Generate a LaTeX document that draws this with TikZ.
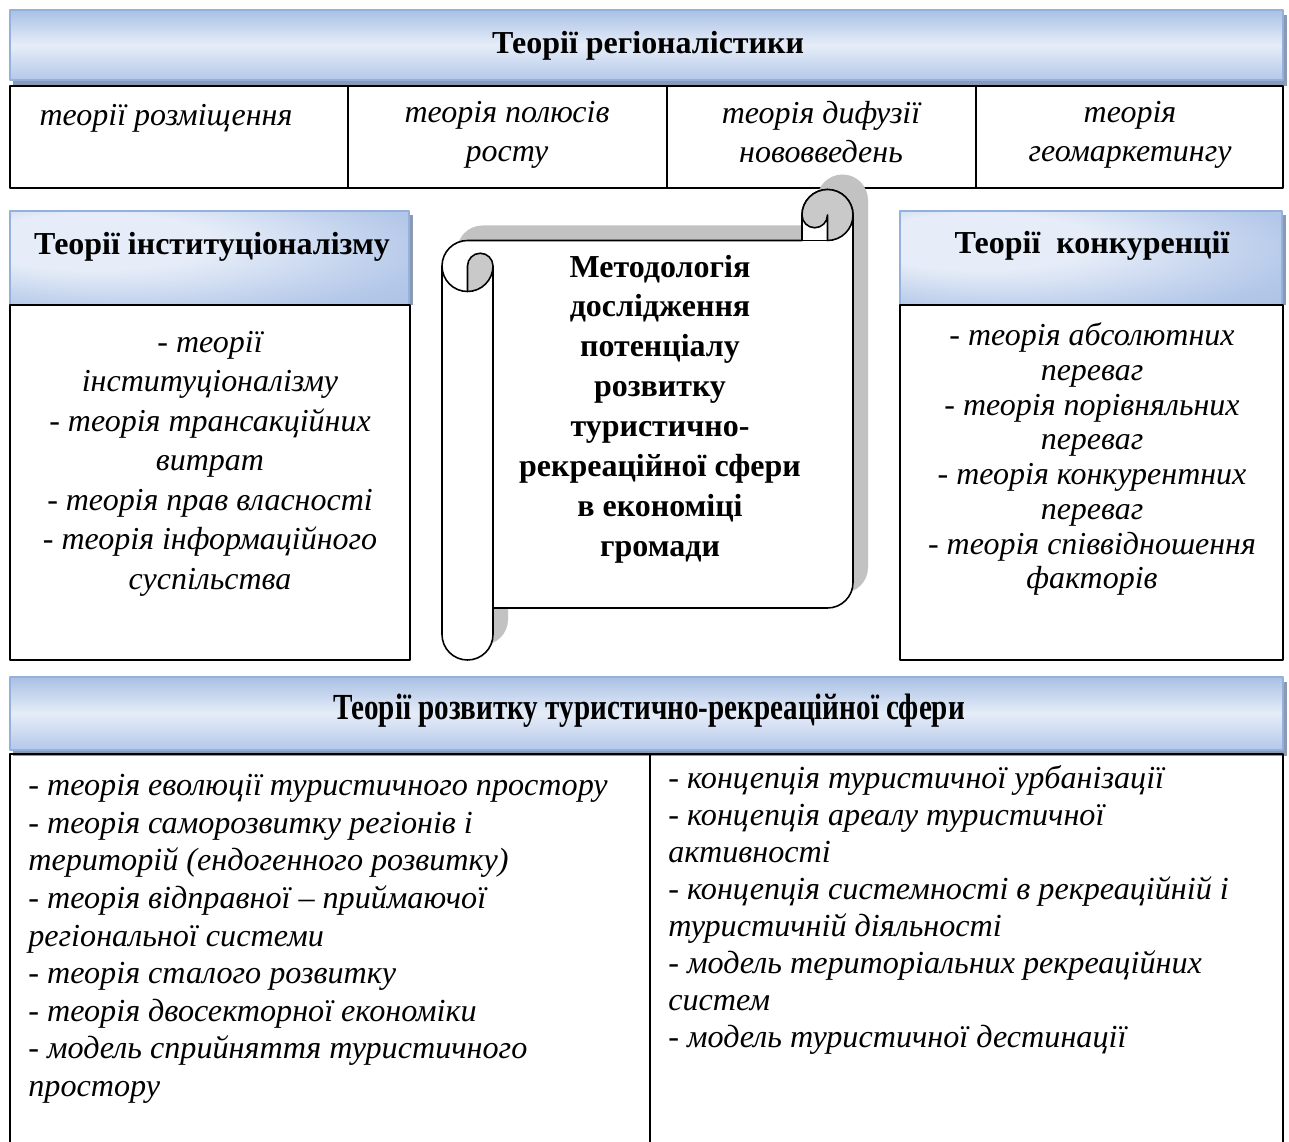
\documentclass[tikz,border=0pt]{standalone}
\usepackage{fontspec}
\usepackage{graphicx}
\setmainfont{Liberation Serif}
\usetikzlibrary{positioning}

\definecolor{hdrtop}{HTML}{A9C0E4}
\definecolor{hdrmid}{HTML}{E6EDF8}
\definecolor{hdrbot}{HTML}{B4C8E9}
\definecolor{hdrdeep}{HTML}{9CB5DD}
\definecolor{hdrline}{HTML}{93B1DC}
\definecolor{hdrshade}{HTML}{8A99B4}
\definecolor{rollgray}{HTML}{C9C9C9}
\definecolor{scrollshade}{HTML}{C2C2C2}

% світла пляма зліва вгорі для бічних заголовків
\pgfdeclareradialshading{sideglow}{\pgfpoint{-20bp}{12bp}}{%
  color(0bp)=(hdrmid); color(15bp)=(hdrmid); color(35bp)=(hdrbot); color(55bp)=(hdrdeep)}

\begin{document}
\begin{tikzpicture}[x=0.02cm, y=-0.02cm, line join=round,
    boxline/.style={draw=black, line width=0.9pt},
    hdrbar/.style={draw=hdrline, line width=0.7pt, top color=hdrtop, bottom color=hdrbot, middle color=hdrmid},
    sidebar/.style={draw=hdrline, line width=0.7pt, shading=sideglow},
    hdrdrop/.style={fill=hdrshade, draw=none},
    titletxt/.style={font=\fontsize{18.2}{22}\selectfont\bfseries, inner sep=0pt},
    itemtxt/.style={font=\fontsize{18.2}{22.1}\selectfont\itshape, align=center, inner sep=0pt,
      execute at begin node=\strut, execute at end node=\strut},
    listtxt/.style={font=\fontsize{18.3}{21.3}\selectfont\itshape, align=left, inner sep=0pt, anchor=west,
      execute at begin node=\strut, execute at end node=\strut},
    rollfill/.style={fill=rollgray, draw=black, line width=0.9pt}
  ]
  \useasboundingbox (0,0) rectangle (1289,1142);

  % Теорії регіоналістики
  \fill[hdrdrop] (13,15) rectangle (1287,86);
  \path[hdrbar] (10,10) rectangle (1283,80);
  \node[titletxt] (regtitle) at (648,46) {Теорії регіоналістики};

  \draw[boxline] (10,86) rectangle (1283,188);
  \foreach \xc in {348,667,976}
    \draw[boxline] (\xc,86) -- (\xc,188);
  \node[itemtxt] (placing) at (166,118) {теорії розміщення};
  \node[itemtxt] (growth) at (507,137.5) {теорія полюсів\\ росту};
  \node[itemtxt] (diffusion) at (821,137.5) {теорія дифузії\\ нововведень};
  \node[itemtxt] (geomarket) at (1130,137.5) {теорія\\ геомаркетингу};

  % Теорії інституціоналізму
  \fill[hdrdrop] (13,215) rectangle (413,305);
  \path[sidebar] (10,211) rectangle (409,305);
  \draw[boxline] (10,305) rectangle (410,660);
  \node[titletxt] (insttitle) at (212,247) {Теорії інституціоналізму};
  \node[itemtxt, font=\fontsize{18.2}{22.5}\selectfont\itshape] (instlist) at (210,466)
    {- теорії\\ інституціоналізму\\ - теорія трансакційних\\ витрат\\
     - теорія прав власності\\ - теорія інформаційного\\ суспільства};

  % Теорії конкуренції
  \fill[hdrdrop] (904,215) rectangle (1286,305);
  \path[sidebar] (900,211) rectangle (1282,305);
  \draw[boxline] (900,305) rectangle (1283,660);
  \node[titletxt] (comptitle) at (1092,246) {Теорії\ \ конкуренції};
  \node[itemtxt, font=\fontsize{18.2}{19.8}\selectfont\itshape] (complist) at (1092,461)
    {- теорія абсолютних\\ переваг\\ - теорія порівняльних\\ переваг\\
     - теорія конкурентних\\ переваг\\ - теорія співвідношення\\ факторів};

  % сувій: тінь, аркуш, згортки
  \begin{scope}[shift={(15,-15)}]
    \fill[scrollshade] (467.5,240.5) -- (802,240.5) -- (802,215)
      arc[start angle=180, end angle=360, radius=25.5] -- (853,582.5)
      arc[start angle=0, end angle=90, radius=25.5] -- (493,608) -- (493,634.5)
      arc[start angle=0, end angle=180, radius=25.5] -- (442,266)
      arc[start angle=180, end angle=270, radius=25.5] -- cycle;
  \end{scope}
  \filldraw[fill=white, boxline] (467.5,240.5) -- (802,240.5) -- (802,215)
    arc[start angle=180, end angle=360, radius=25.5] -- (853,582.5)
    arc[start angle=0, end angle=90, radius=25.5] -- (493,608) -- (493,634.5)
    arc[start angle=0, end angle=180, radius=25.5] -- (442,266)
    arc[start angle=180, end angle=270, radius=25.5] -- cycle;
  \draw[boxline] (442,266) arc[start angle=180, end angle=90, radius=25.5];
  \filldraw[rollfill] (467.5,291.5) -- (467.5,266)
    arc[start angle=180, end angle=360, radius=12.75]
    arc[start angle=0, end angle=90, radius=25.5] -- cycle;
  \draw[boxline] (493,266) -- (493,608);
  \filldraw[rollfill] (802,215)
    arc[start angle=180, end angle=360, radius=25.5]
    arc[start angle=0, end angle=90, radius=25.5] -- (827.5,215)
    arc[start angle=0, end angle=180, radius=12.75] -- cycle;
  \draw[boxline] (802,240.5) -- (827.5,240.5);
  \node[titletxt, align=center, font=\fontsize{18.2}{22.7}\selectfont\bfseries] (method) at (660,409)
    {Методологія\\ дослідження\\ потенціалу\\ розвитку\\ туристично-\\
     рекреаційної сфери\\ в економіці\\ громади};

  % Теорії розвитку туристично-рекреаційної сфери
  \fill[hdrdrop] (13,682) rectangle (1287,756);
  \path[hdrbar] (10,677) rectangle (1283,750);
  \node[titletxt] (tourtitle) at (649,711)
    {\scalebox{0.91}[1.15]{Теорії розвитку туристично-рекреаційної сфери}};
  \draw[boxline] (10,1142) -- (10,754) -- (1283,754) -- (1283,1142);
  \draw[boxline] (650,754) -- (650,1142);
  \node[listtxt, font=\fontsize{18.3}{21.4}\selectfont\itshape] (leftlist) at (28,941)
    {- теорія еволюції туристичного простору\\ - теорія саморозвитку регіонів і\\
     територій (ендогенного розвитку)\\ - теорія відправної – приймаючої\\
     регіональної системи\\ - теорія сталого розвитку\\ - теорія двосекторної економіки\\
     - модель сприйняття туристичного\\ простору};
  \node[listtxt, font=\fontsize{18.3}{21}\selectfont\itshape] (rightlist) at (668,912)
    {- концепція туристичної урбанізації\\ - концепція ареалу туристичної\\ активності\\
     - концепція системності в рекреаційній і\\ туристичній діяльності\\
     - модель територіальних рекреаційних\\ систем\\ - модель туристичної дестинації};
\end{tikzpicture}
\end{document}
